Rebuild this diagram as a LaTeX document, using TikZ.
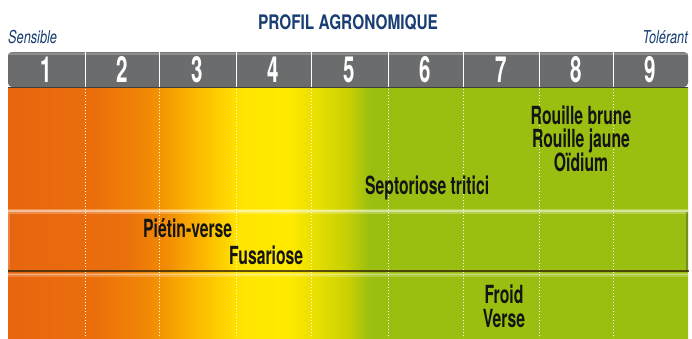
\documentclass[tikz,border=0pt]{standalone}
\usepackage{fontspec}
\setmainfont{TeX Gyre Heros}
\newfontfamily\titlefont{TeX Gyre Heros}[FakeStretch=0.77]
\newfontfamily\sidefont{TeX Gyre Heros}[FakeStretch=0.72]
\newfontfamily\numfont{TeX Gyre Heros}[FakeStretch=0.57]
\newfontfamily\labfont{TeX Gyre Heros}[FakeStretch=0.63]
\definecolor{navy}{HTML}{173D72}
\definecolor{orA}{HTML}{E8650F}
\definecolor{orB}{HTML}{EB6F0C}
\definecolor{orC}{HTML}{F18A04}
\definecolor{orD}{HTML}{FBB300}
\definecolor{yeA}{HTML}{FFE400}
\definecolor{yeB}{HTML}{FFEB00}
\definecolor{ygA}{HTML}{E6DE00}
\definecolor{ygB}{HTML}{C8CF04}
\definecolor{grA}{HTML}{9ABF10}
\definecolor{barg}{HTML}{6B6C6E}
\definecolor{barl}{HTML}{8C8D8F}
\definecolor{bard}{HTML}{3F3E3B}
\definecolor{edge}{HTML}{3A2A05}
\pgfdeclarehorizontalshading{rowshade}{100bp}{color(0bp)=(orA); color(25bp)=(orA); color(31.4bp)=(orB); color(35.4bp)=(orC); color(38.3bp)=(orD); color(42.1bp)=(yeA); color(45.4bp)=(yeB); color(47.9bp)=(ygA); color(50.1bp)=(ygB); color(51.6bp)=(grA); color(75bp)=(grA); color(100bp)=(grA)}
\pgfdeclarehorizontalshading{midshade}{100bp}{color(0bp)=(orA); color(25bp)=(orA); color(33.6bp)=(orB); color(36.5bp)=(orC); color(39.1bp)=(orD); color(41.9bp)=(yeA); color(45.7bp)=(yeB); color(47.6bp)=(ygA); color(49.8bp)=(ygB); color(51.6bp)=(grA); color(75bp)=(grA); color(100bp)=(grA)}
\tikzset{
  numlab/.style={text=white, inner sep=0pt, anchor=base, font=\numfont\bfseries\fontsize{36}{36}\selectfont},
  lab/.style={text=black!92, inner sep=0pt, font=\labfont\bfseries\fontsize{25}{25}\selectfont},
  side/.style={text=navy, inner sep=0pt, anchor=base, font=\sidefont\itshape\fontsize{17.7}{18}\selectfont},
  grid/.style={white, line width=0.9pt, dash pattern=on 1.1pt off 1.9pt},
  hdiv/.style={white, line width=1pt}
}
\begin{document}
\begin{tikzpicture}[x=1pt,y=-1pt]
\useasboundingbox (0,0) rectangle (692,338);
% title and side labels
\node[anchor=base, inner sep=0pt, text=navy, font=\titlefont\bfseries\fontsize{20}{20}\selectfont] (title) at (348,29) {PROFIL AGRONOMIQUE};
\node[side, anchor=base west] (sens) at (8,43) {Sensible};
\node[side, anchor=base east] (tol) at (688,43) {Tolérant};
% header bar
\fill[barg, rounded corners=4pt] (8,87) -- (8,52) -- (688,52) -- (688,87) -- cycle;
\fill[barl, rounded corners=3pt] (8.5,56) -- (8.5,52.5) -- (687.5,52.5) -- (687.5,56) -- cycle;
\fill[barg] (8,55) rectangle (688,60);
% gradient body
\shade[shading=rowshade] (8,87) rectangle (688,338);
\shade[shading=midshade] (8,212) rectangle (688,271);
% band edges
\draw[white, opacity=0.25, line width=5pt] (8,211.5) -- (688,211.5);
\draw[white, opacity=0.45, line width=1.5pt] (8,211) -- (688,211);
\draw[white, opacity=0.2, line width=1.5pt] (9,213) -- (9,269);
\draw[edge, opacity=0.8, line width=1.8pt] (8,271) -- (689,271);
\draw[black!80, opacity=0.35, line width=2.5pt] (687,212) -- (687,271);
\draw[white, opacity=0.2, line width=4pt] (8,275) -- (688,275);
\draw[white, opacity=0.35, line width=1.2pt] (8,274.5) -- (688,274.5);
% shadow under header
\draw[bard, line width=1.5pt] (8,87.5) -- (688,87.5);
% header dividers and dotted grid
\foreach \x in {85,159,236,311,388,463,539,613} {
  \draw[hdiv] (\x,52) -- (\x,87);
  \draw[grid] (\x,89) -- (\x,338);
}
\node[numlab] (n1) at (46.5,82) {1};
\node[numlab] (n2) at (122,82) {2};
\node[numlab] (n3) at (197.5,82) {3};
\node[numlab] (n4) at (273.5,82) {4};
\node[numlab] (n5) at (349.5,82) {5};
\node[numlab] (n6) at (425.5,82) {6};
\node[numlab] (n7) at (501,82) {7};
\node[numlab] (n8) at (576,82) {8};
\node[numlab] (n9) at (650.5,82) {9};
% labels
\node[lab, anchor=base] (rb) at (581,124) {Rouille brune};
\node[lab, anchor=base] (rj) at (581,147) {Rouille jaune};
\node[lab, anchor=base] (oi) at (581,171) {Oïdium};
\node[lab, anchor=base west] (sep) at (365,194) {Septoriose tritici};
\node[lab, anchor=base west] (pv) at (143,237) {Piétin-verse};
\node[lab, anchor=base west] (fus) at (229,264) {Fusariose};
\node[lab, anchor=base] (fr) at (504,303) {Froid};
\node[lab, anchor=base] (ve) at (504,327) {Verse};
\end{tikzpicture}
\end{document}
